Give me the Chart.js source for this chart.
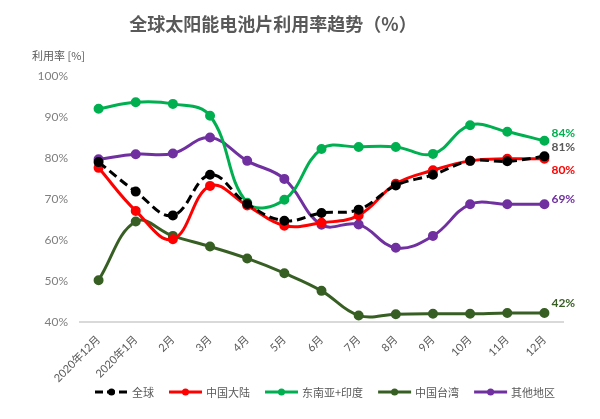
<!DOCTYPE html>
<html>
<head>
<meta charset="utf-8">
<script src="https://cdn.jsdelivr.net/npm/chart.js@4.4.1/dist/chart.umd.min.js"></script>
<style>
html,body{margin:0;padding:0;background:#fff;}
#wrap{width:600px;height:419px;position:relative;}
</style>
</head>
<body>
<div id="wrap"><canvas id="c" width="600" height="419"></canvas></div>
<script>
const categories = ["2020年12月","2020年1月","2月","3月","4月","5月","6月","7月","8月","9月","10月","11月","12月"];
const global = [79.0, 71.8, 66.0, 75.9, 68.8, 64.7, 66.6, 67.4, 73.3, 75.9, 79.3, 79.2, 80.4];
const mainland = [77.6, 67.1, 60.2, 73.2, 68.4, 63.5, 64.2, 66.0, 73.7, 77.0, 79.3, 79.8, 79.8];
const seaIndia = [92.0, 93.6, 93.2, 90.3, 69.1, 69.8, 82.2, 82.7, 82.7, 81.0, 88.0, 86.4, 84.2];
const taiwan = [50.2, 64.5, 61.0, 58.4, 55.5, 51.9, 47.6, 41.6, 41.9, 42.0, 42.0, 42.2, 42.2];
const others = [79.7, 80.9, 81.1, 85.0, 79.3, 74.9, 63.7, 63.8, 58.1, 61.0, 68.7, 68.7, 68.7];
const seriesNames = ["全球","中国大陆","东南亚+印度","中国台湾","其他地区"];
const endLabels = ["81%","80%","84%","42%","69%"];
const yTicks = [40,50,60,70,80,90,100];

const colors = ["#000000","#FF0000","#00B050","#375F23","#7030A0"];
const labelColors = ["#595959","#FF0000","#00B050","#375F23","#7030A0"];
const labelDy = [-9, 11, -8, -10, -5];
const FONT = 'Lato, "Noto Sans CJK SC", sans-serif';
const CJK = '"Noto Sans CJK SC", Lato, sans-serif';

function ds(i, data, dash){
  return {
    label: seriesNames[i], data: data,
    borderColor: colors[i], backgroundColor: colors[i],
    pointBackgroundColor: colors[i], pointBorderColor: colors[i],
    borderWidth: 3, pointRadius: 3.5, pointHoverRadius: 3.5,
    tension: 0.4, borderDash: dash || [], fill: false
  };
}

const extras = {
  id: 'extras',
  afterDatasetsDraw(chart){
    const ctx = chart.ctx;
    ctx.save();
    ctx.font = 'bold 12px ' + FONT;
    ctx.textAlign = 'left';
    ctx.textBaseline = 'middle';
    chart.data.datasets.forEach((d, i) => {
      const meta = chart.getDatasetMeta(i);
      const p = meta.data[meta.data.length - 1];
      ctx.fillStyle = labelColors[i];
      ctx.fillText(endLabels[i], p.x + 7, p.y + labelDy[i]);
    });
    ctx.restore();
  },
  afterDraw(chart){
    const ctx = chart.ctx;
    ctx.save();
    // title
    ctx.fillStyle = '#595959';
    ctx.font = 'bold 18px ' + CJK;
    ctx.textAlign = 'center';
    ctx.textBaseline = 'middle';
    ctx.fillText('全球太阳能电池片利用率趋势（%）', 273, 24);
    // y axis title
    ctx.font = '11px ' + CJK;
    ctx.textAlign = 'left';
    ctx.fillStyle = '#595959';
    ctx.fillText('利用率 [%]', 32, 56);
    // legend
    let x = 95;
    const y = 392;
    ctx.font = '11px ' + CJK;
    chart.data.datasets.forEach((d, i) => {
      ctx.strokeStyle = colors[i];
      ctx.fillStyle = colors[i];
      ctx.lineWidth = 3;
      ctx.setLineDash(i === 0 ? [8,4] : []);
      ctx.beginPath();
      ctx.moveTo(x, y); ctx.lineTo(x + 33, y); ctx.stroke();
      ctx.setLineDash([]);
      ctx.beginPath();
      ctx.arc(x + 16.5, y, 3.5, 0, Math.PI*2); ctx.fill();
      x += 37;
      ctx.fillStyle = '#595959';
      ctx.fillText(seriesNames[i], x, y + 1);
      x += ctx.measureText(seriesNames[i]).width + 15;
    });
    ctx.restore();
  }
};

new Chart(document.getElementById('c'), {
  type: 'line',
  data: {
    labels: categories,
    datasets: [ds(0, global, [9,5]), ds(1, mainland), ds(2, seaIndia), ds(3, taiwan), ds(4, others)]
  },
  options: {
    responsive: false,
    animation: false,
    layout: { padding: { top: 76, left: 0, right: 37, bottom: 0 } },
    plugins: { legend: { display: false }, title: { display: false }, tooltip: { enabled: false } },
    scales: {
      x: {
        offset: true,
        grid: { display: false, drawTicks: false },
        border: { display: true, color: '#D9D9D9', width: 2 },
        ticks: { minRotation: 45, maxRotation: 45, padding: 11, color: '#595959', font: { size: 11, family: FONT } },
        afterFit(scale){ scale.height = 97; }
      },
      y: {
        min: 40, max: 100,
        afterBuildTicks(scale){ scale.ticks = yTicks.map(v => ({value: v})); },
        grid: { display: false, drawTicks: false },
        border: { display: false },
        ticks: { padding: 12, color: '#7F7F7F', font: { size: 12, family: FONT }, callback: v => v + '%' },
        afterFit(scale){ scale.width = 80; }
      }
    }
  },
  plugins: [extras]
});
</script>
</body>
</html>
